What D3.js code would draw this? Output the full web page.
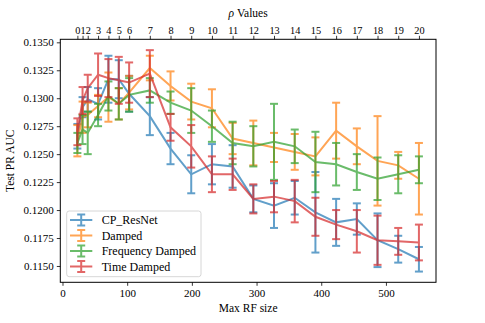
<!DOCTYPE html>
<html>
<head>
<meta charset="utf-8">
<script src="https://cdn.jsdelivr.net/npm/d3@7"></script>
<style>
body { margin: 0; background: #fff; }
text { font-family: "Liberation Serif", "DejaVu Serif", serif; }
</style>
</head>
<body>
<svg></svg>
<script>
var width = 485;
var height = 323;
var margin = { top: 39.3, right: 49, bottom: 40.7, left: 60.3 };

// RF sizes and the rho value each one belongs to
var rfSizes = [23, 31, 39, 55, 71, 87, 103, 135, 167, 199, 231, 263, 295, 327, 359, 391, 423, 455, 487, 519, 551];
var rhoLabels = d3.range(0, 21).map(String);

var seriesNames = ['CP_ResNet', 'Damped', 'Frequency Damped', 'Time Damped'];
var colors = ['#1f77b4', '#ff7f0e', '#2ca02c', '#d62728'];

var cpResnet = [0.1266, 0.1292, 0.1299, 0.1295, 0.1317, 0.1317, 0.1304, 0.1284, 0.1255, 0.1232, 0.1241, 0.1239, 0.1210, 0.1204, 0.1211, 0.1198, 0.1189, 0.1192, 0.1173, 0.1165, 0.1156];
var cpResnetErr = [0.0011, 0.0009, 0.0011, 0.0014, 0.0021, 0.0017, 0.0016, 0.0017, 0.0014, 0.0017, 0.0018, 0.0019, 0.0012, 0.0020, 0.0015, 0.0036, 0.0021, 0.0014, 0.0024, 0.0012, 0.0011];

var damped = [0.1262, 0.1283, 0.1285, 0.1293, 0.1301, 0.1295, 0.1305, 0.1327, 0.1311, 0.1297, 0.1291, 0.1264, 0.1260, 0.1256, 0.1252, 0.1248, 0.1271, 0.1257, 0.1244, 0.1240, 0.1228];
var dampedErr = [0.0014, 0.0014, 0.0011, 0.0010, 0.0022, 0.0014, 0.0015, 0.0011, 0.0013, 0.0016, 0.0017, 0.0014, 0.0020, 0.0013, 0.0016, 0.0017, 0.0025, 0.0016, 0.0040, 0.0012, 0.0032];

var freqDamped = [0.1260, 0.1272, 0.1269, 0.1285, 0.1302, 0.1295, 0.1303, 0.1307, 0.1296, 0.1289, 0.1275, 0.1260, 0.1257, 0.1261, 0.1257, 0.1243, 0.1241, 0.1234, 0.1228, 0.1232, 0.1236];
var freqDampedErr = [0.0009, 0.0013, 0.0019, 0.0010, 0.0013, 0.0014, 0.0015, 0.0011, 0.0010, 0.0020, 0.0014, 0.0019, 0.0018, 0.0034, 0.0015, 0.0027, 0.0019, 0.0016, 0.0019, 0.0017, 0.0012];

var timeDamped = [0.1270, 0.1298, 0.1309, 0.1321, 0.1318, 0.1316, 0.1314, 0.1322, 0.1274, 0.1257, 0.1232, 0.1232, 0.1210, 0.1212, 0.1208, 0.1194, 0.1187, 0.1181, 0.1173, 0.1172, 0.1171];
var timeDampedErr = [0.0012, 0.0012, 0.0012, 0.0019, 0.0017, 0.0021, 0.0018, 0.0021, 0.0012, 0.0019, 0.0016, 0.0014, 0.0013, 0.0014, 0.0019, 0.0017, 0.0013, 0.0019, 0.0022, 0.0012, 0.0016];

var xTicks = [0, 100, 200, 300, 400, 500];
var yTicks = [0.1150, 0.1175, 0.1200, 0.1225, 0.1250, 0.1275, 0.1300, 0.1325, 0.1350];

var series = [
	{ name: seriesNames[0], values: cpResnet, errs: cpResnetErr, color: colors[0] },
	{ name: seriesNames[1], values: damped, errs: dampedErr, color: colors[1] },
	{ name: seriesNames[2], values: freqDamped, errs: freqDampedErr, color: colors[2] },
	{ name: seriesNames[3], values: timeDamped, errs: timeDampedErr, color: colors[3] }
];

var svg = d3.select('svg')
	.attr('width', width)
	.attr('height', height);

var x = d3.scaleLinear()
	.domain([-3.4, 577.4])
	.range([margin.left, width - margin.right]);

var y = d3.scaleLinear()
	.domain([0.11354, 0.13527])
	.range([height - margin.bottom, margin.top]);

var fontSize = '11px';

// bottom axis
var xAxis = svg.append('g')
	.attr('transform', `translate(0,${height - margin.bottom})`)
	.call(d3.axisBottom(x).tickValues(xTicks).tickSize(3.5).tickPadding(3).tickFormat(d3.format('d')));

// top axis with rho values
var topAxis = svg.append('g')
	.attr('transform', `translate(0,${margin.top})`)
	.call(d3.axisTop(x).tickValues(rfSizes).tickSize(3.5).tickPadding(2)
		.tickFormat(function(d, i) { return rhoLabels[i]; }));

// left axis
var yAxis = svg.append('g')
	.attr('transform', `translate(${margin.left},0)`)
	.call(d3.axisLeft(y).tickValues(yTicks).tickSize(3.5).tickPadding(3).tickFormat(d3.format('.4f')));

[xAxis, topAxis, yAxis].forEach(function(g) {
	g.select('.domain').remove();
	g.attr('font-family', null);
	g.selectAll('text').style('font-size', fontSize).attr('fill', '#000');
	g.selectAll('line').attr('stroke', '#000').attr('stroke-width', 0.8);
});
topAxis.selectAll('text').style('font-size', '10.3px');

// frame
svg.append('rect')
	.attr('x', margin.left)
	.attr('y', margin.top)
	.attr('width', width - margin.right - margin.left)
	.attr('height', height - margin.bottom - margin.top)
	.attr('fill', 'none')
	.attr('stroke', '#000')
	.attr('stroke-width', 1);

var line = d3.line()
	.x(function(d) { return x(d.x); })
	.y(function(d) { return y(d.y); });

var capHalf = 4;

series.forEach(function(s) {
	var pts = rfSizes.map(function(r, i) {
		return { x: r, y: s.values[i], e: s.errs[i] };
	});
	var g = svg.append('g').attr('opacity', 0.7);

	g.append('path')
		.attr('d', line(pts))
		.attr('fill', 'none')
		.attr('stroke', s.color)
		.attr('stroke-width', 2);

	var bars = g.selectAll('g.bar')
		.data(pts)
		.enter().append('g');

	bars.append('line')
		.attr('x1', d => x(d.x)).attr('x2', d => x(d.x))
		.attr('y1', d => y(d.y - d.e)).attr('y2', d => y(d.y + d.e))
		.attr('stroke', s.color).attr('stroke-width', 2);

	[-1, 1].forEach(function(sign) {
		bars.append('line')
			.attr('x1', d => x(d.x) - capHalf).attr('x2', d => x(d.x) + capHalf)
			.attr('y1', d => y(d.y + sign * d.e)).attr('y2', d => y(d.y + sign * d.e))
			.attr('stroke', s.color).attr('stroke-width', 2);
	});
});

// legend
var legend = svg.append('g');
legend.append('rect')
	.attr('x', 66.7).attr('y', 211)
	.attr('width', 134.3).attr('height', 65.7)
	.attr('rx', 2.5)
	.attr('fill', '#fff').attr('fill-opacity', 0.8)
	.attr('stroke', '#ccc').attr('stroke-width', 0.8);

series.forEach(function(s, i) {
	var ly = 220 + i * 15.5;
	var item = legend.append('g').attr('opacity', 0.7);
	item.append('line')
		.attr('x1', 70).attr('x2', 92.3).attr('y1', ly).attr('y2', ly)
		.attr('stroke', s.color).attr('stroke-width', 2);
	item.append('line')
		.attr('x1', 81.2).attr('x2', 81.2).attr('y1', ly - 5.5).attr('y2', ly + 5.5)
		.attr('stroke', s.color).attr('stroke-width', 2);
	[-5.5, 5.5].forEach(function(o) {
		item.append('line')
			.attr('x1', 81.2 - capHalf).attr('x2', 81.2 + capHalf)
			.attr('y1', ly + o).attr('y2', ly + o)
			.attr('stroke', s.color).attr('stroke-width', 2);
	});
	legend.append('text')
		.attr('x', 101.7).attr('y', ly)
		.attr('dy', '0.35em')
		.style('font-size', '12px')
		.text(s.name);
});

// axis labels
svg.append('text')
	.attr('x', (margin.left + width - margin.right) / 2)
	.attr('y', 312)
	.attr('text-anchor', 'middle')
	.style('font-size', '11.5px')
	.text('Max RF size');

svg.append('text')
	.attr('transform', `translate(14,${(margin.top + height - margin.bottom) / 2}) rotate(-90)`)
	.attr('text-anchor', 'middle')
	.style('font-size', '11.5px')
	.text('Test PR AUC');

var title = svg.append('text')
	.attr('x', (margin.left + width - margin.right) / 2)
	.attr('y', 17)
	.attr('text-anchor', 'middle')
	.style('font-size', '11.5px');
title.append('tspan').style('font-style', 'italic').text('ρ');
title.append('tspan').text(' Values');
</script>
</body>
</html>
